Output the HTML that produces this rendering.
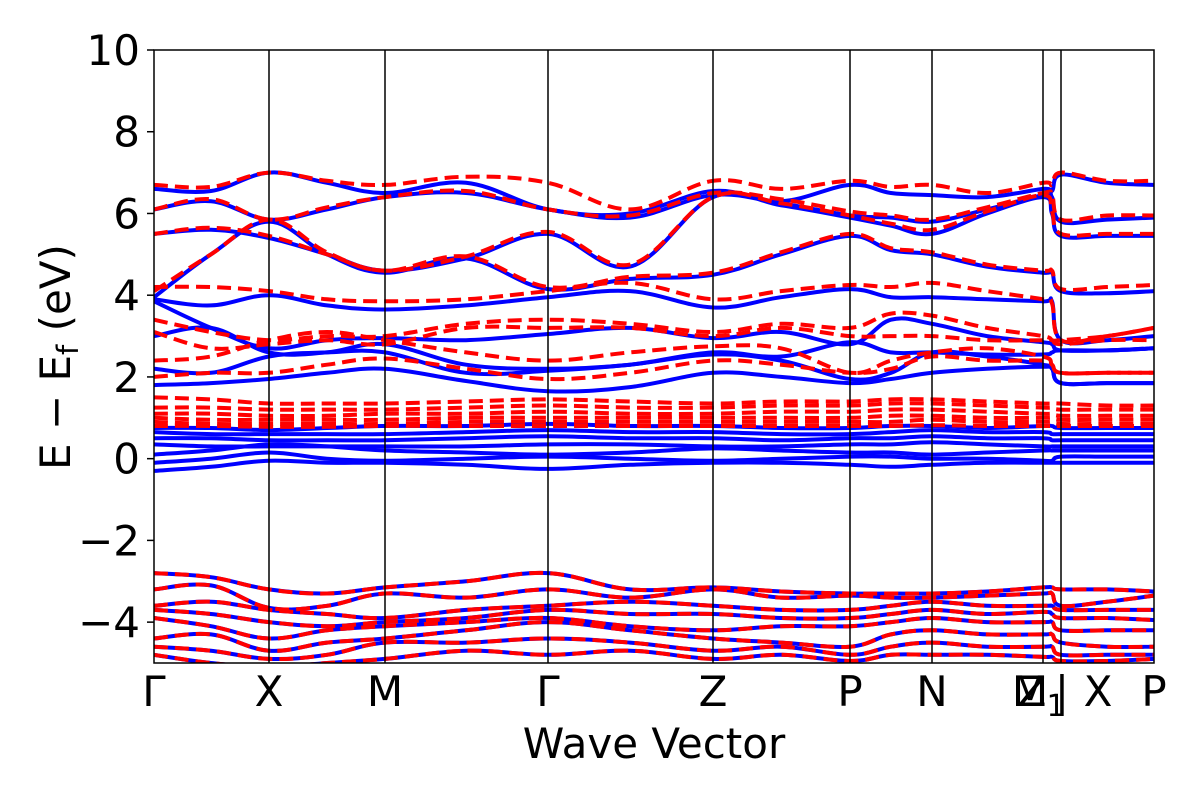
<!DOCTYPE html>
<html><head><meta charset="utf-8"><style>
html,body{margin:0;padding:0;background:#fff}
svg{display:block;font-family:"DejaVu Sans","Liberation Sans",sans-serif}
</style></head><body>
<svg id="chart" width="1200" height="800" viewBox="0 0 1200 800">
<defs><clipPath id="pc"><rect x="154" y="50" width="1000" height="613"/></clipPath></defs>
<g id="bands" clip-path="url(#pc)"></g>
<g id="axes"></g>
</svg>
<script>
const kLabels = ["Γ","X","M","Γ","Z","P","N","","","P"];
const kNodes = [0,115,231,394,559,696,778,889,907,1000];
const yTicks = [-4,-2,0,2,4,6,8,10];
const cols = [0,57,115,173,231,312,394,476,559,627,696,737,778,833,889,898,907,953,1000];
const blueBands = [
[6.6,6.55,7.0,6.75,6.5,6.75,6.1,6.0,6.55,6.3,6.7,6.5,6.45,6.4,6.6,6.55,6.95,6.75,6.7],
[6.1,6.3,5.85,6.1,6.4,6.5,6.1,5.9,6.45,6.25,5.95,5.9,5.8,6.1,6.45,6.4,5.8,5.85,5.9],
[5.5,5.6,5.4,5.0,4.6,4.9,5.5,4.7,6.4,6.2,5.9,5.7,5.5,6.0,6.4,6.0,5.45,5.45,5.45],
[3.95,5.0,5.8,5.0,4.55,4.9,4.15,4.4,4.5,5.0,5.45,5.1,5.0,4.7,4.55,4.55,4.1,4.05,4.1],
[3.9,3.75,4.0,3.75,3.65,3.75,3.95,4.1,3.7,3.95,4.15,3.95,3.95,3.9,3.85,3.85,2.9,2.9,3.0],
[3.85,3.2,2.7,2.9,2.95,2.9,3.05,3.2,2.95,3.1,2.8,3.4,3.3,3.0,2.85,2.8,2.65,2.65,2.7],
[3.0,3.2,2.6,2.6,2.8,2.3,2.2,2.3,2.6,2.5,2.85,2.6,2.6,2.55,2.55,2.6,2.65,2.65,2.7],
[2.2,2.1,2.5,2.6,2.6,2.1,2.15,2.3,2.55,2.4,1.95,2.1,2.6,2.5,2.3,2.2,1.85,1.85,1.85],
[1.8,1.85,1.95,2.1,2.2,1.9,1.65,1.75,2.1,2.0,1.85,1.95,2.1,2.2,2.25,2.2,1.85,1.85,1.85],
[0.75,0.75,0.7,0.75,0.8,0.8,0.85,0.8,0.8,0.75,0.75,0.8,0.8,0.75,0.8,0.8,0.75,0.75,0.75],
[0.65,0.6,0.6,0.6,0.6,0.65,0.7,0.65,0.65,0.6,0.6,0.65,0.7,0.65,0.65,0.6,0.6,0.6,0.6],
[0.5,0.5,0.45,0.45,0.45,0.5,0.55,0.5,0.5,0.45,0.5,0.5,0.55,0.5,0.5,0.45,0.45,0.45,0.45],
[0.35,0.3,0.3,0.3,0.3,0.3,0.35,0.35,0.3,0.3,0.35,0.35,0.4,0.35,0.3,0.3,0.3,0.3,0.3],
[0.1,0.2,0.35,0.3,0.2,0.15,0.1,0.15,0.25,0.2,0.15,0.15,0.1,0.15,0.2,0.2,0.2,0.2,0.2],
[-0.1,0.0,0.15,0.0,-0.05,0.0,0.05,0.0,-0.05,0.0,0.05,0.05,0.0,0.0,-0.05,-0.05,0.05,0.05,0.05],
[-0.3,-0.2,-0.05,-0.1,-0.1,-0.15,-0.25,-0.15,-0.1,-0.1,-0.15,-0.2,-0.15,-0.1,-0.1,-0.1,-0.1,-0.1,-0.1]
];
const redBands = [
[6.7,6.65,7.0,6.8,6.7,6.9,6.75,6.1,6.8,6.6,6.8,6.65,6.7,6.5,6.75,6.7,7.0,6.8,6.8],
[6.1,6.35,5.85,6.15,6.4,6.55,6.1,5.95,6.5,6.35,6.05,5.95,5.85,6.15,6.5,6.45,5.85,5.95,5.95],
[5.5,5.65,5.45,5.0,4.6,4.95,5.55,4.75,6.4,6.25,5.95,5.75,5.6,6.05,6.45,6.05,5.5,5.5,5.5],
[4.1,5.0,5.85,5.05,4.6,4.95,4.2,4.45,4.55,5.05,5.5,5.15,5.05,4.75,4.6,4.6,4.15,4.2,4.25],
[4.2,4.2,4.1,3.9,3.85,3.9,4.1,4.3,3.9,4.1,4.25,4.2,4.3,4.1,3.9,3.8,2.9,3.0,3.2],
[3.4,3.1,2.9,3.0,3.0,3.3,3.4,3.3,3.1,3.3,3.2,3.55,3.5,3.2,3.0,2.9,2.9,3.0,3.2],
[3.1,2.7,2.8,2.9,2.8,3.2,3.2,3.2,3.0,3.2,3.0,3.0,3.0,2.9,2.9,2.9,2.8,2.9,2.9],
[2.4,2.5,2.9,3.1,2.9,2.6,2.4,2.6,2.75,2.7,2.1,2.4,2.6,2.7,2.5,2.3,2.1,2.1,2.1],
[2.0,2.1,2.1,2.3,2.45,2.2,1.95,2.1,2.4,2.3,2.1,2.2,2.5,2.4,2.4,2.3,2.1,2.1,2.1],
[1.5,1.45,1.35,1.35,1.35,1.4,1.45,1.4,1.35,1.4,1.4,1.45,1.45,1.4,1.35,1.35,1.35,1.3,1.3],
[1.25,1.25,1.2,1.2,1.2,1.25,1.3,1.25,1.25,1.3,1.3,1.35,1.35,1.3,1.25,1.25,1.2,1.2,1.2],
[1.1,1.1,1.05,1.05,1.1,1.1,1.15,1.1,1.1,1.15,1.15,1.2,1.2,1.15,1.1,1.1,1.05,1.05,1.05],
[1.0,0.95,0.95,0.95,0.95,1.0,1.0,1.0,1.0,1.0,1.0,1.05,1.05,1.0,1.0,1.0,0.95,0.95,0.95],
[0.9,0.85,0.85,0.85,0.85,0.9,0.9,0.9,0.9,0.9,0.9,0.9,0.95,0.9,0.9,0.9,0.85,0.85,0.85],
[0.8,0.8,0.78,0.78,0.8,0.8,0.8,0.8,0.8,0.8,0.8,0.8,0.82,0.8,0.8,0.8,0.8,0.8,0.8]
];
const valenceBands = [
[-2.8,-2.9,-3.2,-3.3,-3.15,-3.0,-2.8,-3.2,-3.15,-3.25,-3.3,-3.3,-3.3,-3.25,-3.15,-3.15,-3.2,-3.2,-3.25],
[-3.2,-3.1,-3.65,-3.6,-3.3,-3.4,-3.2,-3.4,-3.2,-3.4,-3.35,-3.4,-3.4,-3.35,-3.3,-3.3,-3.6,-3.5,-3.35],
[-3.6,-3.5,-3.7,-3.8,-3.9,-3.7,-3.6,-3.5,-3.6,-3.7,-3.7,-3.6,-3.5,-3.6,-3.6,-3.6,-3.7,-3.7,-3.7],
[-3.7,-3.8,-4.0,-4.1,-4.0,-3.9,-3.7,-3.8,-3.8,-3.9,-3.9,-3.8,-3.7,-3.8,-3.75,-3.8,-3.9,-3.9,-3.95],
[-3.9,-4.1,-4.4,-4.2,-4.1,-4.0,-3.9,-4.1,-4.2,-4.1,-4.1,-4.0,-3.9,-4.0,-4.0,-4.0,-4.2,-4.2,-4.2],
[-4.4,-4.3,-4.7,-4.5,-4.4,-4.2,-4.0,-4.2,-4.4,-4.5,-4.6,-4.3,-4.2,-4.3,-4.3,-4.3,-4.5,-4.6,-4.6],
[-4.6,-4.7,-4.9,-4.8,-4.5,-4.5,-4.4,-4.5,-4.7,-4.6,-4.8,-4.6,-4.5,-4.6,-4.6,-4.6,-4.8,-4.8,-4.8],
[-4.8,-5.0,-5.1,-5.0,-4.9,-4.7,-4.8,-4.7,-4.9,-4.8,-4.95,-4.8,-4.8,-4.8,-4.85,-4.85,-4.95,-4.95,-4.9]
];
const NS="http://www.w3.org/2000/svg";
const X0=154,X1=1154,Y0=663,Y1=50,VMIN=-5,VMAX=10;
function xs(k){return X0+k*(X1-X0)/1000;}
function ys(v){return Y0-(v-VMIN)*(Y0-Y1)/(VMAX-VMIN);}
function pathFor(vals){
  const p=vals.map((v,i)=>[xs(cols[i]),ys(v)]);
  let d="M"+p[0][0].toFixed(1)+","+p[0][1].toFixed(1);
  for(let i=0;i<p.length-1;i++){
    const a=p[Math.max(0,i-1)],b=p[i],c=p[i+1],e=p[Math.min(p.length-1,i+2)];
    const t=0.18;
    const c1=[b[0]+(c[0]-a[0])*t,b[1]+(c[1]-a[1])*t];
    const c2=[c[0]-(e[0]-b[0])*t,c[1]-(e[1]-b[1])*t];
    d+=" C"+c1[0].toFixed(1)+","+c1[1].toFixed(1)+" "+c2[0].toFixed(1)+","+c2[1].toFixed(1)+" "+c[0].toFixed(1)+","+c[1].toFixed(1);
  }
  return d;
}
const g=document.getElementById("bands");
function addBand(vals,color,dash,name){
  const el=document.createElementNS(NS,"path");
  el.setAttribute("d",pathFor(vals));
  el.setAttribute("fill","none");
  el.setAttribute("stroke",color);
  el.setAttribute("stroke-width","4");
  if(dash) el.setAttribute("stroke-dasharray","14 7");
  
  
  g.appendChild(el);
}
blueBands.forEach((b,i)=>addBand(b,"#0000ff",false,"blue-band-"+(i+1)));
valenceBands.forEach((b,i)=>addBand(b,"#0000ff",false,"blue-valence-band-"+(i+1)));
redBands.forEach((b,i)=>addBand(b,"#ff0000",true,"red-band-"+(i+1)));
valenceBands.forEach((b,i)=>addBand(b,"#ff0000",true,"red-valence-band-"+(i+1)));
const ax=document.getElementById("axes");
function mk(tag,attrs,text){
  const el=document.createElementNS(NS,tag);
  for(const k in attrs) el.setAttribute(k,attrs[k]);
  if(text!==undefined) el.textContent=text;
  ax.appendChild(el);return el;
}
kNodes.forEach((k,i)=>{
  if(i>0&&i<kNodes.length-1){
    const l=mk("line",{x1:xs(k),x2:xs(k),y1:Y1,y2:Y0,stroke:"#000","stroke-width":1.5});
    
    
  }
  if(kLabels[i]){
    const t=mk("text",{x:xs(k),y:706,"font-size":42,"text-anchor":"middle",fill:"#000"},kLabels[i]);
    
    
  }
});
const extra=[["M",1030,706,42],["Z",1032,706,42],["1",1056,716,30],["|",1062,706,42],["X",1098,706,42]];
extra.forEach(e=>{
  const t=mk("text",{x:e[1],y:e[2],"font-size":e[3],"text-anchor":"middle",fill:"#000"},e[0]);
  
  
});
yTicks.forEach(v=>{
  const tl=mk("line",{x1:X0-7,x2:X0,y1:ys(v),y2:ys(v),stroke:"#000","stroke-width":1.5});
  
  
  const t=mk("text",{x:140,y:ys(v)+15,"font-size":42,"text-anchor":"end",fill:"#000"},v<0?"\u2212"+(-v):String(v));
  
  
});
const fr=mk("rect",{x:X0,y:Y1,width:X1-X0,height:Y0-Y1,fill:"none",stroke:"#000","stroke-width":1.5});


const xt=mk("text",{x:654,y:758,"font-size":42,"text-anchor":"middle",fill:"#000"},"Wave Vector");


const yt=mk("text",{x:0,y:0,"font-size":42,"text-anchor":"middle",fill:"#000",transform:"translate(70,357) rotate(-90)"});
yt.innerHTML='E \u2212 E<tspan font-size="29" dy="8">f</tspan><tspan dy="-8"> (eV)</tspan>';


</script>
</body></html>
